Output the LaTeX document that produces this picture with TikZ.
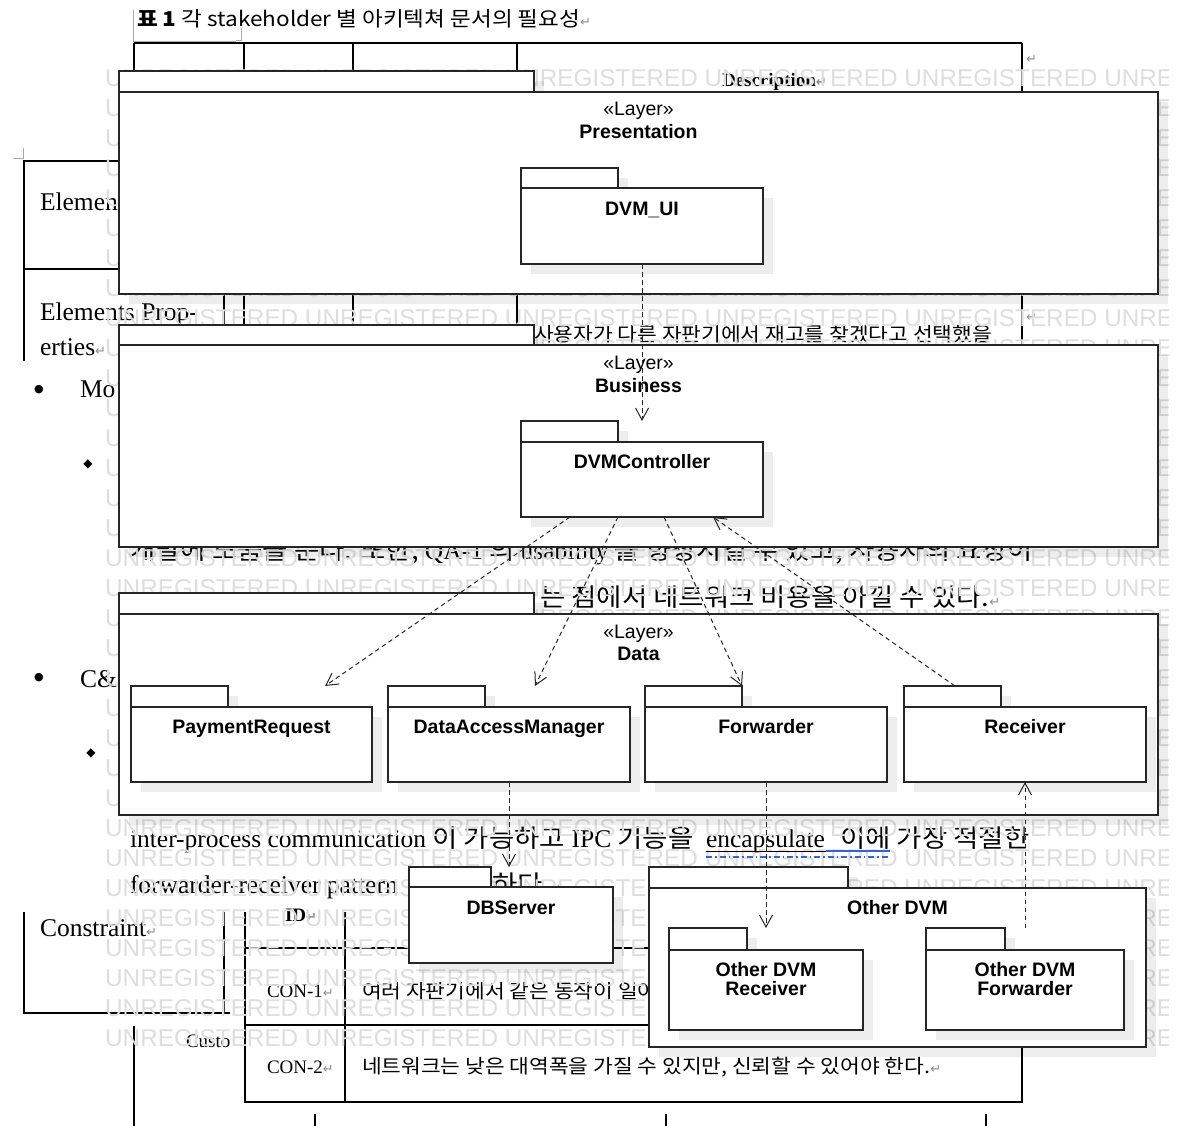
\documentclass[tikz,border=0pt]{standalone}
\usepackage{fontspec}
\setmainfont{Liberation Serif}
\newfontfamily\diafont{Liberation Sans}
\newfontfamily\krfont[FakeStretch=1.1]{Noto Sans CJK KR}
\newfontfamily\symfont{DejaVu Sans}
\usetikzlibrary{arrows.meta,calc}
\definecolor{wmc}{RGB}{222,222,222}
\definecolor{lnc}{RGB}{38,38,38}
\definecolor{retc}{RGB}{140,140,140}
\definecolor{ublue}{RGB}{50,100,220}
\definecolor{brk}{RGB}{170,170,170}
\newcommand{\fs}[1]{\fontsize{#1}{#1}\selectfont}
\newcommand{\retmark}{{\symfont\color{retc}\fs{13}↵}}
\newcommand{\umlpkg}[8]{%
  \fill[shd] (#2+10,#3+10) rectangle (#4+10,#5+10);
  \fill[shd] (#2+10,#5+10) rectangle (#6+10,#7+10);
  \node[#8, anchor=north west, minimum width=#4-#2, minimum height=#5-#3] (#1tab) at (#2,#3) {};
  \node[#8, anchor=north west, minimum width=#6-#2, minimum height=#7-#5] (#1) at (#2,#5) {};
}
\tikzset{
  doc/.style={line width=1.3pt, black},
  gline/.style={line width=1pt, brk},
  txt/.style={inner sep=0, outer sep=0, anchor=base west},
  serifL/.style={txt, font=\fs{25.5}},
  krL/.style={txt, font=\krfont\fs{25}},
  cell/.style={txt, font=\fs{19}},
  symb/.style={inner sep=0, anchor=center},
  wmtext/.style={inner sep=0, anchor=west, text=wmc, font=\diafont\fs{24.3}},
  shd/.style={fill=black, fill opacity=0.07},
  layer/.style={draw=lnc, line width=1.6pt, fill=white, inner sep=0, outer sep=0},
  pkgbox/.style={draw=lnc, line width=1.3pt, fill=white, inner sep=0, outer sep=0},
  stereo/.style={inner sep=0, anchor=base, font=\diafont\fs{19.5}},
  lname/.style={inner sep=0, anchor=base, font=\diafont\bfseries\fs{19.5}},
  dep/.style={draw=lnc, line width=1pt, dash pattern=on 4.5pt off 3.5pt,
    -{Straight Barb[length=12pt,width=13pt,line width=1pt]}},
}
\begin{document}
\begin{tikzpicture}[x=1pt,y=-1pt]
\useasboundingbox (0,0) rectangle (1188,1126);
\fill[white] (0,0) rectangle (1188,1126);

% ---------- background document ----------
\node[txt, font=\krfont\fs{20.5}] (cap) at (137,27) {{\bfseries 표 1} 각 stakeholder 별 아키텍쳐 문서의 필요성\retmark};
\draw[gline] (133,10) -- (133,42) -- (236,42);
\draw[gline] (236,41) -- (241,41) -- (241,28);
\draw[doc] (134,43) -- (1022,43);
\foreach \xx in {134,244,353,517} \draw[doc] (\xx,43) -- (\xx,71);
\draw[doc] (1022,43) -- (1022,92);
\node[txt] (ret1) at (1026,64) {\retmark};
\node[txt, font=\bfseries\fs{19}] (desc) at (722,87) {Description\retmark};

\draw[doc] (119,161) -- (24,161) -- (24,361);
\draw[doc] (24,269) -- (119,269);
\draw[gline] (13,159) -- (23,159) -- (23,148);
\node[serifL] (el1) at (40,211) {Elements};
\node[serifL] (el2) at (40,320) {Elements Prop-};
\node[serifL] (el3) at (40,355) {erties\retmark};
\foreach \xx in {224,244,353,517} \draw[doc] (\xx,294) -- (\xx,325);
\draw[doc] (1022,294) -- (1022,345);
\node[txt] (ret2) at (1026,321) {\retmark};
\node[txt, font=\krfont\fs{19.5}] (k1) at (534,341) {사용자가 다른 자판기에서 재고를 찾겠다고 선택했을};

\node[symb, font=\symfont\fs{11}] (b1) at (39,390) {●};
\node[serifL] (mo) at (80,397) {Mo};
\node[symb, font=\symfont\fs{12}] (d1) at (88,464) {◆};
\node[symb, font=\symfont\fs{11}] (b2) at (39,678) {●};
\node[serifL] (cc) at (80,687) {C\&};
\node[symb, font=\symfont\fs{12}] (d2) at (91,753) {◆};

\node[krL] (l1) at (130,559) {개발에 도움을 준다. 또한, {\rmfamily\fs{25.5}QA-1} 의 {\rmfamily\fs{25.5}usability} 를 향상시킬 수 있고, 사용자의 요청이};
\node[krL] (l2) at (540,606) {는 점에서 네트워크 비용을 아낄 수 있다.\retmark};

\node[serifL] (l3a) at (130,847) {inter-process communication {\krfont\fs{25}이 가능하고} IPC {\krfont\fs{25}기능을}};
\node[serifL] (l3b) at (706,847) {encapsulate};
\node[krL] (l3c) at (840,847) {이에 가장 적절한};
\node[serifL] (l4a) at (130,893) {forwarder-receiver pattern};
\node[krL] (l4b) at (492,893) {하다.\retmark};

\draw[doc] (24,912) -- (24,1013) -- (230,1013);
\draw[doc] (224,912) -- (224,1013);
\draw[doc] (245,912) -- (245,1102) -- (1022,1102) -- (1022,1047);
\draw[doc] (345,912) -- (345,1102);
\draw[doc] (245,948) -- (649,948);
\draw[doc] (245,1025) -- (649,1025);
\draw[doc] (134,1026) -- (134,1126);
\foreach \xx in {315,666,986} \draw[doc] (\xx,1114) -- (\xx,1126);
\node[serifL] (cons) at (40,936) {Constraint\retmark};
\node[cell, font=\bfseries\fs{19}] (idc) at (285,921) {ID\retmark};
\node[cell] (c1) at (267,997) {CON-1\retmark};
\node[txt, font=\krfont\fs{19.5}] (c1t) at (362,998) {여러 자판기에서 같은 동작이 일어};
\node[cell] (custo) at (186,1047) {Custo};
\node[cell] (c2) at (267,1073) {CON-2\retmark};
\node[txt, font=\krfont\fs{19.5}] (c2t) at (362,1073) {네트워크는 낮은 대역폭을 가질 수 있지만, 신뢰할 수 있어야 한다.\retmark};

% ---------- watermark ----------
\begin{scope}
\clip (0,0) rectangle (1168,1126);
\foreach \k in {0,...,32}{
  \node[wmtext] (wm\k) at (105,{78+30*\k}) {UNREGISTERED UNREGISTERED UNREGISTERED UNREGISTERED UNREGISTERED UNREGISTERED};
}
\end{scope}

% spell-check underlines (drawn over the watermark)
\draw[black, line width=1pt] (l3b.base west) ++(0,4) -- ++(120,0);
\draw[ublue, line width=1.2pt] (826,851) -- (890,851);
\draw[ublue, line width=1.2pt, dash pattern=on 6pt off 3pt on 1.5pt off 3pt] (706,857) -- (890,857);

% ---------- UML package diagram ----------
\umlpkg{pres}{119}{71}{534}{92}{1158}{294}{layer}
\node[stereo] (presS) at ([yshift=-23.5pt]pres.north) {«Layer»};
\node[lname] (presN) at ([yshift=-46.5pt]pres.north) {Presentation};
\umlpkg{ui}{521}{168}{618}{188}{763}{264}{pkgbox}
\node[lname] (uiN) at ([yshift=-27pt]ui.north) {DVM\_UI};

\umlpkg{bus}{119}{325}{534}{345}{1158}{547}{layer}
\node[stereo] (busS) at ([yshift=-24pt]bus.north) {«Layer»};
\node[lname] (busN) at ([yshift=-47pt]bus.north) {Business};
\umlpkg{ctrl}{521}{421}{618}{442}{763}{517}{pkgbox}
\node[lname] (ctrlN) at ([yshift=-26pt]ctrl.north) {DVMController};

\umlpkg{data}{119}{593}{534}{614}{1158}{815}{layer}
\node[stereo] (dataS) at ([yshift=-24pt]data.north) {«Layer»};
\node[lname] (dataN) at ([yshift=-46pt]data.north) {Data};
\umlpkg{pr}{131}{686}{228}{707}{372}{782}{pkgbox}
\node[lname] (prN) at ([yshift=-26pt]pr.north) {PaymentRequest};
\umlpkg{dam}{388}{686}{485}{707}{630}{782}{pkgbox}
\node[lname] (damN) at ([yshift=-26pt]dam.north) {DataAccessManager};
\umlpkg{fwd}{645}{686}{742}{707}{887}{782}{pkgbox}
\node[lname] (fwdN) at ([yshift=-26pt]fwd.north) {Forwarder};
\umlpkg{rcv}{904}{686}{1001}{707}{1146}{782}{pkgbox}
\node[lname] (rcvN) at ([yshift=-26pt]rcv.north) {Receiver};

\umlpkg{db}{409}{867}{491}{887}{613}{963}{pkgbox}
\node[lname] (dbN) at ([yshift=-27pt]db.north) {DBServer};

\umlpkg{odvm}{649}{867}{848}{888}{1146}{1047}{pkgbox}
\node[lname] (odvmN) at ([yshift=-26pt]odvm.north) {Other DVM};
\umlpkg{ort}{669}{928}{747}{950}{863}{1030}{pkgbox}
\node[lname] (ortN1) at ([yshift=-26pt]ort.north) {Other DVM};
\node[lname] (ortN2) at ([yshift=-45pt]ort.north) {Receiver};
\umlpkg{ofw}{926}{928}{1005}{950}{1124}{1030}{pkgbox}
\node[lname] (ofwN1) at ([yshift=-26pt]ofw.north) {Other DVM};
\node[lname] (ofwN2) at ([yshift=-45pt]ofw.north) {Forwarder};

% ---------- dependencies ----------
\draw[dep] (ui.south) -- (ui.south |- ctrltab.north);
\draw[dep] ($(ctrl.south)+(-72,0)$) -- ($(pr.north |- prtab.north)+(73.5,0)$);
\draw[dep] ($(ctrl.south)+(-24,0)$) -- ($(dam.north |- damtab.north)+(26,0)$);
\draw[dep] ($(ctrl.south)+(22,0)$) -- (fwdtab.north east);
\draw[dep] ($(rcv.north |- rcvtab.north)+(-70,0)$) -- ($(ctrl.south)+(71,0)$);
\draw[dep] (dam.south) -- (dam.south |- dbtab.north);
\draw[dep] (fwd.south) -- (fwd.south |- orttab.north);
\draw[dep] (ofw.north |- ofwtab.north) -- (rcv.south);
\end{tikzpicture}
\end{document}
